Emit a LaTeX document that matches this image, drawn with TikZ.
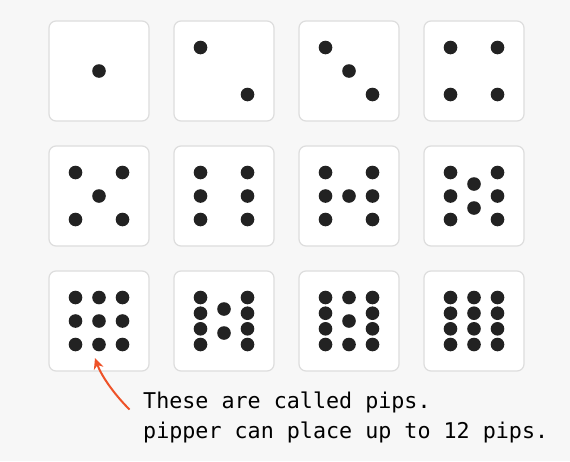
\documentclass[tikz,border=0pt]{standalone}
\usepackage{fontspec}
\newfontfamily\monofont{DejaVu Sans Mono}
\usetikzlibrary{arrows.meta}
\definecolor{bg}{HTML}{F7F7F7}
\definecolor{dieborder}{HTML}{DDDDDD}
\definecolor{pipcol}{HTML}{222222}
\definecolor{arrowcol}{HTML}{EE5228}
\tikzset{
  diebox/.style={draw=dieborder, line width=1.2pt, fill=white, rounded corners=7pt,
    minimum width=100pt, minimum height=100pt, inner sep=0pt, rectangle},
  pipdot/.style={fill=pipcol, circle, minimum size=13.6pt, inner sep=0pt},
  callout/.style={anchor=base west, align=left, inner sep=0pt,
    font={\monofont\fontsize{21.7}{30}\selectfont}},
  pointer/.style={draw=arrowcol, line width=2pt, -{Stealth[length=11pt,width=10pt]}}
}
\begin{document}
\begin{tikzpicture}[x=1pt,y=-1pt]
\fill[bg] (0,0) rectangle (570,461);
\useasboundingbox (0,0) rectangle (570,461);
% dice
\foreach \r in {0,1,2}{
  \foreach \c in {0,1,2,3}{
    \pgfmathtruncatemacro{\n}{\r*4+\c+1}
    \node[diebox] (d\n) at ({99+125*\c},{71+125*\r}) {};
  }
}
% pips
\foreach \n/\plist in {
  1/{0/0},
  2/{-23.5/-23.5, 23.5/23.5},
  3/{-23.5/-23.5, 0/0, 23.5/23.5},
  4/{-23.5/-23.5, 23.5/-23.5, -23.5/23.5, 23.5/23.5},
  5/{-23.5/-23.5, 23.5/-23.5, 0/0, -23.5/23.5, 23.5/23.5},
  6/{-23.5/-23.5, 23.5/-23.5, -23.5/0, 23.5/0, -23.5/23.5, 23.5/23.5},
  7/{-23.5/-23.5, 23.5/-23.5, -23.5/0, 0/0, 23.5/0, -23.5/23.5, 23.5/23.5},
  8/{-23.5/-23.5, 23.5/-23.5, -23.5/0, 23.5/0, -23.5/23.5, 23.5/23.5, 0/-12, 0/12},
  9/{-23.5/-23.5, 0/-23.5, 23.5/-23.5, -23.5/0, 0/0, 23.5/0, -23.5/23.5, 0/23.5, 23.5/23.5},
  10/{-23.5/-23.5, -23.5/-7.8, -23.5/7.8, -23.5/23.5, 23.5/-23.5, 23.5/-7.8, 23.5/7.8, 23.5/23.5, 0/-12, 0/12},
  11/{-23.5/-23.5, -23.5/-7.8, -23.5/7.8, -23.5/23.5, 23.5/-23.5, 23.5/-7.8, 23.5/7.8, 23.5/23.5, 0/-23.5, 0/0, 0/23.5},
  12/{-23.5/-23.5, -23.5/-7.8, -23.5/7.8, -23.5/23.5, 0/-23.5, 0/-7.8, 0/7.8, 0/23.5, 23.5/-23.5, 23.5/-7.8, 23.5/7.8, 23.5/23.5}%
}{
  \foreach \px/\py [count=\k] in \plist {
    \node[pipdot] (p\n-\k) at ([shift={(\px,\py)}]d\n.center) {};
  }
}
% callout
\node[callout] (note) at (143,438.5) {These are called pips.\\pipper can place up to 12 pips.};
\coordinate (tail) at (129.5,409.5);
\coordinate (tip) at (95,358);
\draw[pointer] (tail) .. controls (113,393) and (101,375) .. (tip);
\end{tikzpicture}
\end{document}
